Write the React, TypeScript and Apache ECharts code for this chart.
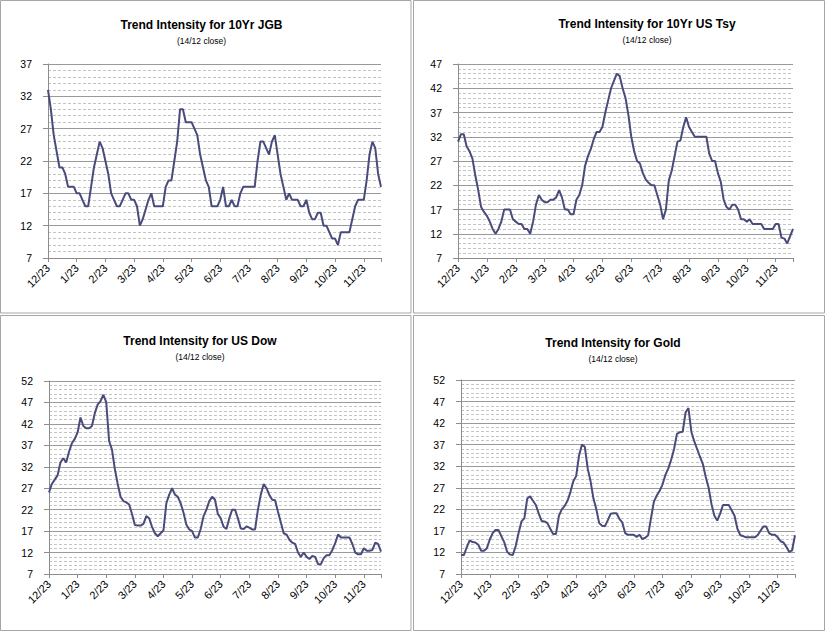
import React, { useEffect, useRef } from "react";
import * as echarts from "echarts";

const monthLabels = ["12/23", "1/23", "2/23", "3/23", "4/23", "5/23", "6/23", "7/23", "8/23", "9/23", "10/23", "11/23"];
const pointsPerMonth = 10;
const titles = [
  "Trend Intensity for 10Yr JGB",
  "Trend Intensity for 10Yr US Tsy",
  "Trend Intensity for US Dow",
  "Trend Intensity for Gold",
];
const subtitle = "(14/12 close)";
const yMin = 7;
const yStep = 5;
const yMaxes = [37, 47, 52, 52];

const jgb = [
  33, 30, 26, 23.5, 21, 21, 20, 18, 18, 18,
  17, 17, 16, 15, 15, 18, 21, 23, 25, 24,
  22, 20, 17, 16, 15, 15, 16, 17, 17, 16,
  16, 15, 12, 13, 14.5, 16, 17, 15, 15, 15,
  15, 18, 19, 19, 22, 25, 30, 30, 28, 28,
  28, 27, 26, 23, 21, 19, 18, 15, 15, 15,
  16, 18, 15, 15, 16, 15, 15, 17, 18, 18,
  18, 18, 18, 22, 25, 25, 24, 23, 25, 26,
  23, 20, 18, 16, 17, 16, 16, 16, 15, 15,
  16, 14, 13, 13, 14, 14, 12, 12, 11, 10,
  10, 9, 11, 11, 11, 11, 13, 15, 16, 16,
  16, 19, 23, 25, 24, 20, 18,
];

const tsy = [
  31, 32.5, 32.5, 30, 29, 27.5, 24, 21, 17.5, 16.5,
  15.7, 14.5, 13, 12, 13, 14.5, 17, 17, 17, 15,
  14.5, 14, 14, 13, 13, 12, 14.5, 18, 20, 19,
  18.5, 18.5, 19, 19, 19.5, 21, 19.5, 17, 17, 16,
  16, 19, 20, 22, 26, 28, 29.5, 31.5, 33, 33,
  34, 37, 39.5, 42, 43.5, 45, 44.5, 42, 40, 36.5,
  32, 29, 27, 26.5, 24.5, 23.2, 22.5, 22, 22, 20,
  18, 15, 17, 23, 25, 28, 31, 31.2, 34, 36,
  34, 33, 32, 32, 32, 32, 32, 28.5, 27, 27,
  24.5, 22.7, 19, 17.5, 17, 18, 18, 17, 15, 15,
  14.5, 15, 14, 14, 14, 14, 13, 13, 13, 13,
  14, 14, 11.2, 11, 10, 11.5, 13,
];

const dow = [
  26, 28, 29, 30, 33, 34, 33, 35.5, 37.5, 38.5,
  40, 43.5, 41.5, 41, 41, 41.5, 44.5, 46.5, 47.3, 48.8,
  47, 38, 36, 31.5, 28, 25, 24, 23.7, 23.2, 21,
  18.4, 18.3, 18.3, 18.7, 20.5, 20, 18, 16.5, 15.8, 16.5,
  17.2, 23.5, 25.5, 27, 25.5, 25, 23.5, 21.3, 18.5, 17.4,
  17, 15.5, 15.5, 17.5, 20.5, 22, 24, 25, 24.3, 21,
  20, 18, 17.5, 20, 22, 22, 20, 17.6, 17.5, 18.1,
  17.8, 17.4, 17.4, 22, 25.5, 28, 27, 25.4, 24.3, 24.2,
  21.5, 19, 16.5, 16.2, 15, 14.3, 14, 12, 11, 12,
  11, 10.5, 11.2, 11, 9.3, 9.3, 10.7, 11.4, 11.4, 12.6,
  14.2, 16.2, 15.5, 15.5, 15.5, 15.5, 14, 12, 11.6, 11.6,
  13, 12.4, 12.4, 12.6, 14.3, 14, 12.2,
];

const gold = [
  11.4, 11.4, 13.2, 14.8, 14.4, 14.3, 13.8, 12.4, 12.4, 13,
  15, 16.5, 17.2, 17.2, 15.8, 14.4, 12.2, 11.5, 11.4, 13.5,
  16.5, 19.2, 19.9, 24.5, 25, 24, 23, 21, 19.3, 19.2,
  18.8, 17.5, 16.3, 16.3, 20.5, 22, 22.8, 24, 26, 28.5,
  29.7, 34.5, 37, 36.5, 31.5, 28.5, 24.5, 22, 18.8, 18.2,
  18.1, 19.5, 21, 21.1, 21.1, 19.8, 19, 16.5, 16.1, 16.1,
  16.1, 15.6, 16.1, 15.1, 15.4, 16, 20, 23.8, 25.2, 26.3,
  27.8, 30, 31.5, 33.5, 36, 39.5, 39.9, 40, 44.5, 45.5,
  40, 37.8, 36, 34.2, 32.5, 29.5, 27, 23.2, 20.5, 19.4,
  21, 23, 23, 23, 21.8, 20.5, 17.5, 16, 15.8, 15.5,
  15.5, 15.5, 15.5, 16, 17, 18, 18, 16.5, 16.1, 16.1,
  15.5, 14.6, 14.3, 13.3, 12.1, 12.5, 16,
];

const seriesData = [jgb, tsy, dow, gold];

const FONT = "'Liberation Sans', Arial, sans-serif";

export default function App() {
  const ref = useRef<HTMLDivElement>(null);

  useEffect(() => {
    if (!ref.current) return;
    const chart = echarts.init(ref.current, null, { renderer: "svg" });

    const n = jgb.length;
    const categories: string[] = [];
    for (let i = 0; i < n; i++) {
      categories.push(i % pointsPerMonth === 0 ? monthLabels[i / pointsPerMonth] || "" : "");
    }

    const grids = [
      { left: 48, top: 64, width: 333, height: 194 },
      { left: 458, top: 64, width: 335, height: 194 },
      { left: 49, top: 381, width: 332, height: 193 },
      { left: 461, top: 380, width: 334, height: 194 },
    ];
    const titlePos = [
      { cx: 201.5, ty: 24.5, sy: 41 },
      { cx: 647, ty: 24, sy: 40 },
      { cx: 200, ty: 341, sy: 357 },
      { cx: 613, ty: 343, sy: 359 },
    ];
    const frames = [
      { x: 0.5, y: 0.5, width: 410.5, height: 312.5 },
      { x: 413.5, y: 0.5, width: 411, height: 312.5 },
      { x: 0.5, y: 315.5, width: 410.5, height: 315 },
      { x: 413.5, y: 315.5, width: 411, height: 315 },
    ];

    const graphic: any[] = [];
    frames.forEach((f) => {
      graphic.push({
        type: "rect",
        shape: f,
        style: { fill: "none", stroke: "#a6a6a6", lineWidth: 1 },
        silent: true,
      });
    });
    titlePos.forEach((t, i) => {
      graphic.push({
        type: "text",
        x: t.cx,
        y: t.ty,
        style: {
          text: titles[i],
          align: "center",
          verticalAlign: "middle",
          font: `bold 12px ${FONT}`,
          fill: "#000",
        },
        silent: true,
      });
      graphic.push({
        type: "text",
        x: t.cx,
        y: t.sy,
        style: {
          text: subtitle,
          align: "center",
          verticalAlign: "middle",
          font: `8.5px ${FONT}`,
          fill: "#000",
        },
        silent: true,
      });
    });

    const option: any = {
      animation: false,
      backgroundColor: "#ffffff",
      grid: grids.map((g) => ({ ...g, containLabel: false })),
      xAxis: grids.map((_, i) => ({
        type: "category",
        gridIndex: i,
        data: categories,
        boundaryGap: false,
        axisLine: { show: true, lineStyle: { color: "#8c8c8c", width: 1 } },
        axisTick: { show: true, interval: pointsPerMonth - 1, length: 4, lineStyle: { color: "#8c8c8c" } },
        axisLabel: { interval: 0, rotate: 45, fontSize: 11, color: "#000", margin: 8, fontFamily: FONT },
        splitLine: { show: false },
      })),
      yAxis: grids.map((_, i) => ({
        type: "value",
        gridIndex: i,
        min: yMin,
        max: yMaxes[i],
        interval: yStep,
        axisLine: { show: true, lineStyle: { color: "#8c8c8c", width: 1 } },
        axisTick: { show: true, length: 5, lineStyle: { color: "#8c8c8c" } },
        axisLabel: { fontSize: 10.5, color: "#000", margin: 16, fontFamily: FONT },
        splitLine: { show: true, lineStyle: { color: "#9a9a9a", width: 1 } },
        minorTick: { show: false, splitNumber: 5 },
        minorSplitLine: { show: true, lineStyle: { color: "#c4c4c4", width: 1, type: [3, 2] } },
      })),
      series: seriesData.map((d, i) => ({
        type: "line",
        xAxisIndex: i,
        yAxisIndex: i,
        data: d,
        showSymbol: false,
        symbol: "none",
        silent: true,
        lineStyle: { color: "#484b7b", width: 2 },
      })),
      graphic,
    };

    chart.setOption(option);
    return () => {
      chart.dispose();
    };
  }, []);

  return (
    <div
      ref={ref}
      style={{ position: "absolute", left: 0, top: 0, width: 826, height: 633, background: "#fff" }}
    />
  );
}
